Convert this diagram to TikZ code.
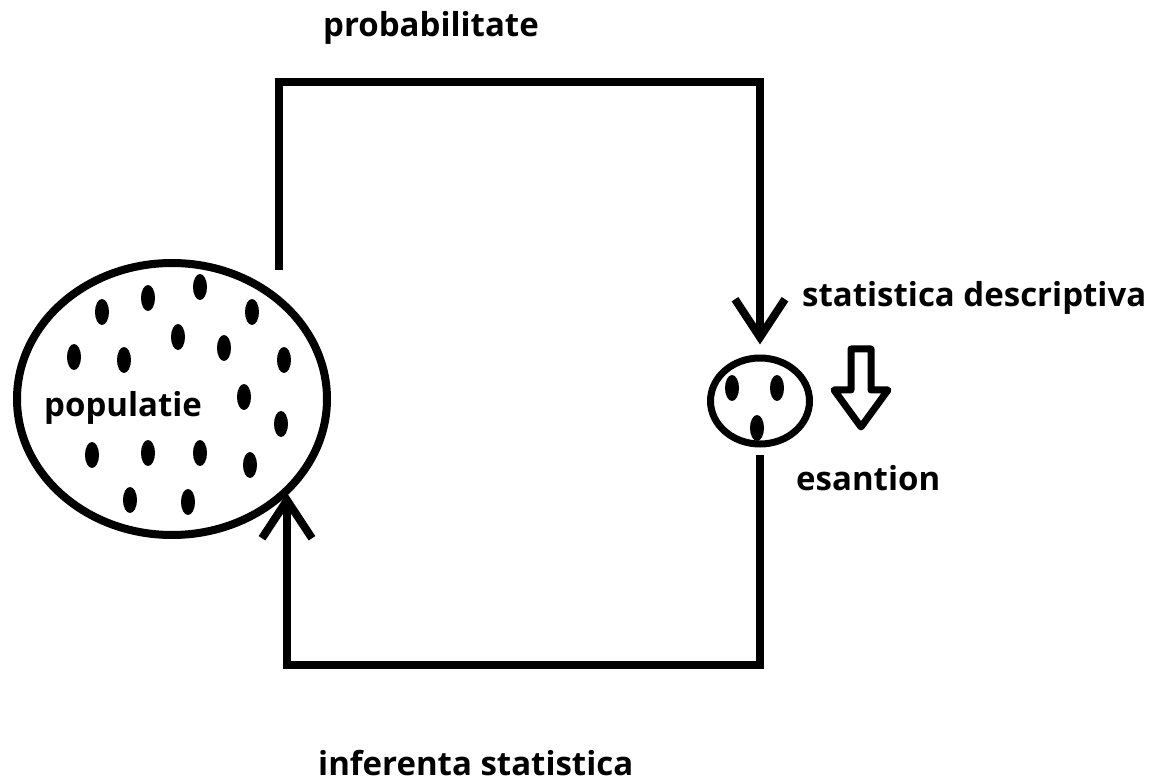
\documentclass[tikz,border=0pt]{standalone}
\usepackage{fontspec}
\setmainfont{Open Sans}
\usetikzlibrary{shapes.geometric, positioning, arrows.meta}

\begin{document}
\begin{tikzpicture}[x=1pt,y=-1pt,>={Straight Barb[length=38pt,width=50pt]},
  lbl/.style={font=\fontsize{33}{38}\selectfont\bfseries, inner sep=0pt, anchor=base west},
  link/.style={line width=8pt, line join=miter}]

\useasboundingbox (0,0) rectangle (1160,783);

\node[draw, ellipse, line width=8pt, minimum width=310pt, minimum height=272pt] (pop) at (172,399) {};
\node[draw, ellipse, line width=7pt, minimum width=99pt, minimum height=86pt] (sample) at (760,401) {};

\coordinate (popTop) at (279,270);
\coordinate (topL) at (279,82);
\coordinate (topR) at (760,82);
\coordinate (botR) at (760,665);
\coordinate (botL) at (287,665);
\coordinate (popBot) at (287,493);

\fill (200,287) ellipse [x radius=7pt, y radius=13pt];
\fill (148,298) ellipse [x radius=7pt, y radius=13pt];
\fill (102,312) ellipse [x radius=7pt, y radius=13pt];
\fill (252,312) ellipse [x radius=7pt, y radius=13pt];
\fill (178,337) ellipse [x radius=7pt, y radius=13pt];
\fill (224,348) ellipse [x radius=7pt, y radius=13pt];
\fill (74,357) ellipse [x radius=7pt, y radius=13pt];
\fill (124,360) ellipse [x radius=7pt, y radius=13pt];
\fill (284,360) ellipse [x radius=7pt, y radius=13pt];
\fill (244,397) ellipse [x radius=7pt, y radius=13pt];
\fill (281,424) ellipse [x radius=7pt, y radius=13pt];
\fill (92,455) ellipse [x radius=7pt, y radius=13pt];
\fill (148,453) ellipse [x radius=7pt, y radius=13pt];
\fill (200,453) ellipse [x radius=7pt, y radius=13pt];
\fill (250,465) ellipse [x radius=7pt, y radius=13pt];
\fill (130,500) ellipse [x radius=7pt, y radius=13pt];
\fill (188,502) ellipse [x radius=7pt, y radius=13pt];

\fill (732,388) ellipse [x radius=7pt, y radius=13pt];
\fill (777,388) ellipse [x radius=7pt, y radius=13pt];
\fill (757,428) ellipse [x radius=7pt, y radius=13pt];

\draw[->,link,shorten >=10pt] (popTop) -- (topL) -- (topR) -- (sample.north);
\draw[->,link,shorten <=8pt] (sample.south) -- (botR) -- (botL) -- (popBot);

\draw[line width=7pt, line join=round] (851,349) -- (871,349) -- (871,390) -- (888,390) -- (861,427) -- (834,390) -- (851,390) -- cycle;

\node[lbl] (probLabel) at (323,37) {probabilitate};
\node[lbl] (descLabel) at (802,307) {statistica descriptiva};
\node[lbl] (sampleLabel) at (796,490) {esantion};
\node[lbl] (popLabel) at (44,417) {populatie};
\node[lbl] (inferLabel) at (318,775) {inferenta statistica};

\end{tikzpicture}
\end{document}
